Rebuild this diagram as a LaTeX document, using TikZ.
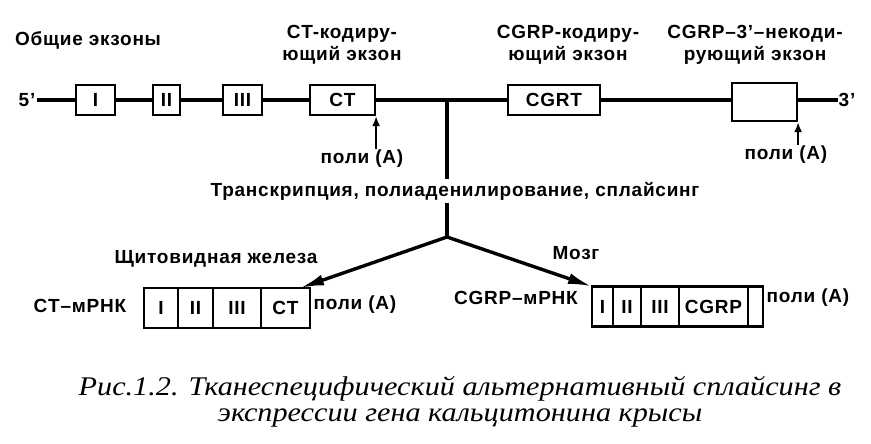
\documentclass[tikz,border=0pt]{standalone}
\usepackage{fontspec}
\setmainfont[LetterSpace=4]{Liberation Sans}
\newfontfamily\capfont[FakeStretch=1.12]{Liberation Serif}
\usetikzlibrary{positioning}
\usetikzlibrary{arrows.meta}

\begin{document}
\begin{tikzpicture}[
  x=1pt, y=-1pt,
  font=\bfseries\fontsize{19}{22}\selectfont,
  lbl/.style={inner sep=1pt, align=center},
  exon/.style={draw, line width=2.2pt, fill=white, minimum height=30pt, inner sep=0pt},
  cell/.style={draw, line width=2.2pt, minimum height=40pt, inner sep=0pt, outer sep=0pt},
  gene/.style={line width=3.2pt},
  arrow/.style={-{Latex[length=24pt, width=11pt]}, line width=3.4pt},
  polyarrow/.style={-{Latex[length=10pt, width=8pt]}, line width=2.4pt}
]
\useasboundingbox (0,0) rectangle (871,444);

% Gene with exons
\node[lbl] (p5) at (27,100) {5'};
\node[exon, minimum width=39pt] (g1) at (95.5,100) {I};
\node[exon, minimum width=27pt] (g2) at (166.5,100) {II};
\node[exon, minimum width=39pt] (g3) at (242.5,100) {III};
\node[exon, minimum width=65pt] (g4) at (342.5,100) {CT};
\node[exon, minimum width=92pt] (g5) at (554,100) {CGRT};
\node[exon, minimum width=65pt, minimum height=38pt] (g6) at (764.5,102) {};
\node[lbl] (p3) at (847,100) {3'};
\coordinate (jn) at (447,100);

\draw[gene] (p5.east) -- (g1.west) (g1.east) -- (g2.west) (g2.east) -- (g3.west)
  (g3.east) -- (g4.west) (g4.east) -- (g5.west) (g5.east) -- (g6.west |- p3) (g6.east |- p3) -- (p3.west);

% Exon labels
\node[lbl] (common) at (88,40) {Общие экзоны};
\node[lbl] (ctlbl) at (342,45) {CT-кодиру-\\ющий экзон};
\node[lbl] (cgrplbl) at (568,45) {CGRP-кодиру-\\ющий экзон};
\node[lbl] (nclbl) at (755,45) {CGRP–3'–некоди-\\рующий экзон};

% Polyadenylation sites
\node[lbl] (pa1) at (362,159) {поли (А)};
\node[lbl] (pa2) at (786,155) {поли (А)};
\draw[polyarrow] (pa1.north -| g4.south east) -- (g4.south east);
\draw[polyarrow] (pa2.north -| g6.south east) -- (g6.south east);

% Processing
\node[lbl, inner sep=3pt] (tr) at (455,191) {Транскрипция, полиаденилирование, сплайсинг};
\coordinate (br) at (447,237);
\draw[gene] (jn) -- (jn |- tr.north);
\draw[gene] (jn |- tr.south) -- (br);

% Thyroid mRNA
\node[cell, minimum width=34pt] (t1) at (161,308) {I};
\node[cell, minimum width=35pt, right=0pt of t1] (t2) {II};
\node[cell, minimum width=48pt, right=0pt of t2] (t3) {III};
\node[cell, minimum width=49pt, right=0pt of t3] (t4) {CT};
\node[lbl] (tname) at (80,306) {CT–мРНК};
\node[lbl] (tpa) at (355,305) {поли (А)};
\node[lbl] (thyroid) at (216,259) {Щитовидная железа};

% Brain mRNA
\node[cell, minimum width=21pt] (b1) at (602.5,306.5) {I};
\node[cell, minimum width=28pt, right=0pt of b1] (b2) {II};
\node[cell, minimum width=38pt, right=0pt of b2] (b3) {III};
\node[cell, minimum width=69pt, right=0pt of b3] (b4) {CGRP};
\node[cell, minimum width=15pt, right=0pt of b4] (b5) {};
\node[lbl] (bname) at (516,298) {CGRP–мРНК};
\node[lbl] (bpa) at (808,298) {поли (А)};
\node[lbl] (brain) at (576,253) {Мозг};

\draw[arrow] (br) -- ([xshift=-10pt]t4.north east);
\draw[arrow] (br) -- (b1.north west);

% Caption
\node[align=center, font=\capfont\itshape\fontsize{27}{26}\selectfont] (cap) at (460,402)
  {Рис.1.2. Тканеспецифический альтернативный сплайсинг в\\экспрессии гена кальцитонина крысы};

\end{tikzpicture}
\end{document}
